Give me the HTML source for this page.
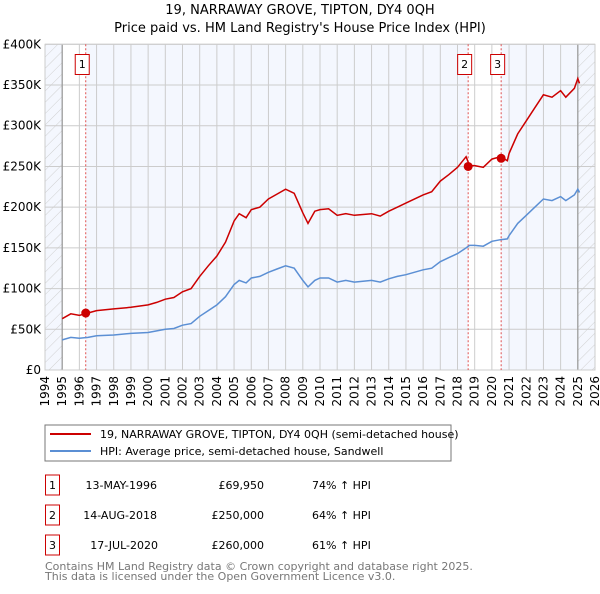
<!DOCTYPE html>
<html><head><meta charset="utf-8"><style>
body{margin:0;background:#fff;width:600px;height:590px;overflow:hidden;font-family:"DejaVu Sans","Liberation Sans",sans-serif}
svg text{font-family:"DejaVu Sans","Liberation Sans",sans-serif}
</style></head><body>
<svg id="c" width="600" height="590" xmlns="http://www.w3.org/2000/svg">
<defs><pattern id="hatch" width="8" height="8" patternUnits="userSpaceOnUse" patternTransform="rotate(45)"><line x1="0" y1="0" x2="0" y2="8" stroke="#d0d0d0" stroke-width="1"/></pattern></defs>
<text x="300" y="14" text-anchor="middle" font-size="13">19, NARRAWAY GROVE, TIPTON, DY4 0QH</text>
<text x="300" y="32" text-anchor="middle" font-size="13">Price paid vs. HM Land Registry's House Price Index (HPI)</text>
<g id="plot"></g>
<rect x="45" y="425" width="406" height="36" fill="#fff" stroke="#777"/>
<line x1="50" y1="434" x2="91" y2="434" stroke="#cc0000" stroke-width="2"/>
<text x="100" y="438" font-size="11">19, NARRAWAY GROVE, TIPTON, DY4 0QH (semi-detached house)</text>
<line x1="50" y1="451" x2="91" y2="451" stroke="#5b8fd4" stroke-width="2"/>
<text x="100" y="455" font-size="11">HPI: Average price, semi-detached house, Sandwell</text>
<g font-size="11">
<rect x="45.5" y="475" width="14" height="20" fill="#fff" stroke="#cc0000"/><text x="52.5" y="489" text-anchor="middle">1</text>
<text x="157" y="489" text-anchor="end">13-MAY-1996</text><text x="264" y="489" text-anchor="end">£69,950</text><text x="312" y="489">74% ↑ HPI</text>
<rect x="45.5" y="505" width="14" height="20" fill="#fff" stroke="#cc0000"/><text x="52.5" y="519" text-anchor="middle">2</text>
<text x="157" y="519" text-anchor="end">14-AUG-2018</text><text x="264" y="519" text-anchor="end">£250,000</text><text x="312" y="519">64% ↑ HPI</text>
<rect x="45.5" y="535" width="14" height="20" fill="#fff" stroke="#cc0000"/><text x="52.5" y="549" text-anchor="middle">3</text>
<text x="158" y="549" text-anchor="end">17-JUL-2020</text><text x="264" y="549" text-anchor="end">£260,000</text><text x="312" y="549">61% ↑ HPI</text>
</g>
<text x="45" y="570" font-size="11" fill="#777">Contains HM Land Registry data © Crown copyright and database right 2025.</text>
<text x="45" y="580" font-size="11" fill="#777">This data is licensed under the Open Government Licence v3.0.</text>
</svg>
<script>
const years=[1995,1995.5,1996,1996.5,1997,1998,1999,2000,2000.5,2001,2001.5,2002,2002.5,2003,2003.5,2004,2004.5,2005,2005.3,2005.7,2006,2006.5,2007,2007.5,2008,2008.5,2009,2009.3,2009.7,2010,2010.5,2011,2011.5,2012,2013,2013.5,2014,2014.5,2015,2016,2016.5,2017,2017.5,2018,2018.5,2018.7,2019,2019.5,2020,2020.5,2020.9,2021,2021.5,2022,2022.5,2023,2023.5,2024,2024.3,2024.8,2025,2025.1];
const hpiValues=[37,40,39,40,42,43,45,46,48,50,51,55,57,66,73,80,90,105,110,107,113,115,120,124,128,125,110,102,110,113,113,108,110,108,110,108,112,115,117,123,125,133,138,143,150,153,153,152,158,160,161,165,180,190,200,210,208,213,208,215,222,218];
const propValues=[63,69,67,70,73,75,77,80,83,87,89,96,100,115,128,140,157,183,192,187,197,200,210,216,222,217,193,180,195,197,198,190,192,190,192,189,195,200,205,215,219,232,240,249,262,251,251,249,259,262,257,266,290,306,322,338,335,343,335,346,358,352];
const saleYears=[1996.37,2018.62,2020.54];
const saleValues=[69.95,250,260];
const saleLabels=["1","2","3"];
const yTicks=[0,50,100,150,200,250,300,350,400];
const yTickLabels=["£0","£50K","£100K","£150K","£200K","£250K","£300K","£350K","£400K"];
const xTicks=[1994,1995,1996,1997,1998,1999,2000,2001,2002,2003,2004,2005,2006,2007,2008,2009,2010,2011,2012,2013,2014,2015,2016,2017,2018,2019,2020,2021,2022,2023,2024,2025,2026];

const X0=45,X1=595,Y0=370,Y1=44.3;
const xs=y=>X0+(y-1994)/32*(X1-X0);
const ys=v=>Y0-v/400*(Y0-Y1);
const NS="http://www.w3.org/2000/svg";
const g=document.getElementById('plot');
function mk(t,a){const e=document.createElementNS(NS,t);for(const k in a)e.setAttribute(k,a[k]);g.appendChild(e);return e;}
let e;
e=mk('rect',{x:X0,y:Y1,width:X1-X0,height:Y0-Y1,fill:'#f4f7fe'});


e=mk('rect',{x:xs(1995),y:Y1,width:xs(saleYears[0])-xs(1995),height:Y0-Y1,fill:'#fff'});


e=mk('rect',{x:xs(saleYears[1]),y:Y1,width:xs(saleYears[2])-xs(saleYears[1]),height:Y0-Y1,fill:'#fff'});


e=mk('rect',{x:X0,y:Y1,width:xs(1995)-X0,height:Y0-Y1,fill:'url(#hatch)'});


e=mk('rect',{x:xs(2025),y:Y1,width:X1-xs(2025),height:Y0-Y1,fill:'url(#hatch)'});


yTicks.forEach((v,i)=>{
 e=mk('line',{x1:X0,x2:X1,y1:ys(v),y2:ys(v),stroke:'#ccc'});
 
 
 e=mk('text',{x:41,y:ys(v)+4,'text-anchor':'end','font-size':12});
 e.textContent=yTickLabels[i];
 
 
});
xTicks.forEach(y=>{
 e=mk('line',{x1:xs(y),x2:xs(y),y1:Y1,y2:Y0,stroke:'#ccc'});
 
 
 e=mk('text',{x:0,y:0,'font-size':12,'text-anchor':'end',transform:`translate(${xs(y)+4},${Y0+6}) rotate(-90)`});
 e.textContent=y;
 
 
});
[1995,2025].forEach(y=>{
 e=mk('line',{x1:xs(y),x2:xs(y),y1:Y1,y2:Y0,stroke:'#999','stroke-width':1.2});
 
 
});
e=mk('rect',{x:X0,y:Y1,width:X1-X0,height:Y0-Y1,fill:'none',stroke:'#ccc'});


saleYears.forEach((y,i)=>{
 e=mk('line',{x1:xs(y),x2:xs(y),y1:Y1,y2:Y0,stroke:'#e05050','stroke-dasharray':'2,2'});
 
 
});
const pts=a=>years.map((y,i)=>xs(y).toFixed(1)+','+ys(a[i]).toFixed(1)).join(' ');
e=mk('polyline',{points:pts(hpiValues),fill:'none',stroke:'#5b8fd4','stroke-width':1.5});


e=mk('polyline',{points:pts(propValues),fill:'none',stroke:'#cc0000','stroke-width':1.5});


saleYears.forEach((y,i)=>{
 e=mk('circle',{cx:xs(y),cy:ys(saleValues[i]),r:4.5,fill:'#cc0000'});
 
 
 e=mk('rect',{x:xs(y)-10.5,y:54.5,width:14,height:20,fill:'#fff',stroke:'#cc0000'});
 
 
 e=mk('text',{x:xs(y)-3.5,y:68,'text-anchor':'middle','font-size':11});
 e.textContent=saleLabels[i];
 
 
});
</script>
</body></html>
